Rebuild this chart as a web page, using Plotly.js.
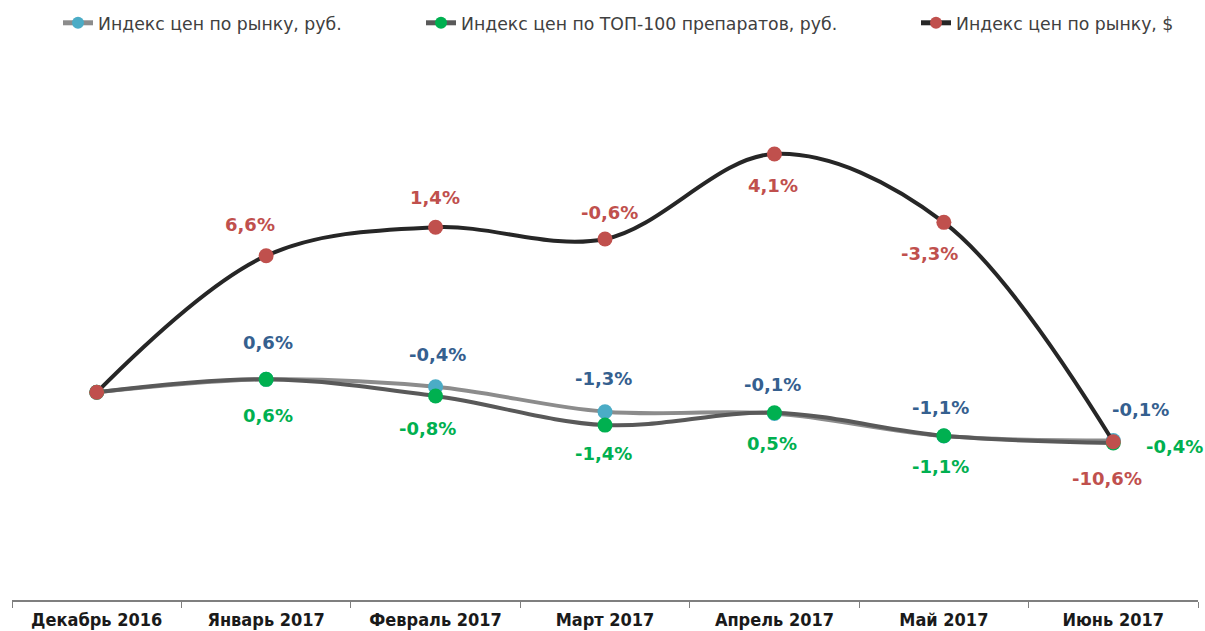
<!DOCTYPE html>
<html>
<head>
<meta charset="utf-8">
<script src="https://cdn.plot.ly/plotly-3.0.1.min.js"></script>
<style>html,body{margin:0;padding:0;background:#fff;}#chart{width:1205px;height:631px;}</style>
</head>
<body>
<div id="chart"></div>
<script>
// Categories
const months = ["Декабрь 2016", "Январь 2017", "Февраль 2017", "Март 2017", "Апрель 2017", "Май 2017", "Июнь 2017"];

// Series names
const nameRub = "Индекс цен по рынку, руб.";
const nameTop = "Индекс цен по ТОП-100 препаратов, руб.";
const nameUsd = "Индекс цен по рынку, $";

// Index values (Dec 2016 = 100)
const rubIndex = [100, 100.63, 100.27, 99.06, 98.97, 97.88, 97.66];
const topIndex = [100, 100.63, 99.82, 98.41, 99.01, 97.89, 97.54];
const usdIndex = [100, 106.63, 108.01, 107.44, 111.57, 108.25, 97.60];

// Monthly change labels
const rubLabels = ["", "0,6%", "-0,4%", "-1,3%", "-0,1%", "-1,1%", "-0,1%"];
const topLabels = ["", "0,6%", "-0,8%", "-1,4%", "0,5%", "-1,1%", "-0,4%"];
const usdLabels = ["", "6,6%", "1,4%", "-0,6%", "4,1%", "-3,3%", "-10,6%"];

// Label offsets (pixels) relative to each point
const rubOff = [[0,0],[2,37],[2,32],[-2,33],[-2,29],[-3,29],[27,31]];
const topOff = [[0,0],[2,-36],[-8,-32],[-2,-28],[-2,-31],[-3,-31],[61,-3]];
const usdOff = [[0,0],[-16,31],[-1,30],[4,27],[-1,-32],[-14,-31],[-6,-37]];

const labelFont = {family: "DejaVu Sans, Verdana, sans-serif", size: 18, weight: 700};

const traces = [
  {x: months, y: rubIndex, name: nameRub, type: "scatter", mode: "lines+markers",
   line: {color: "#8c8c8c", width: 4, shape: "spline", smoothing: 1},
   marker: {color: "#4bacc6", size: 15}, legend: "legend"},
  {x: months, y: topIndex, name: nameTop, type: "scatter", mode: "lines+markers",
   line: {color: "#595959", width: 4, shape: "spline", smoothing: 1},
   marker: {color: "#00b050", size: 15}, legend: "legend2"},
  {x: months, y: usdIndex, name: nameUsd, type: "scatter", mode: "lines+markers",
   line: {color: "#262626", width: 4, shape: "spline", smoothing: 1},
   marker: {color: "#c0504d", size: 15}, legend: "legend3"}
];

const annotations = [];
function addLabels(vals, labels, offs, color) {
  labels.forEach((t, i) => {
    if (!t) return;
    annotations.push({x: months[i], y: vals[i], xref: "x", yref: "y", text: t, showarrow: false,
      xshift: offs[i][0], yshift: offs[i][1], font: Object.assign({color: color}, labelFont)});
  });
}
addLabels(rubIndex, rubLabels, rubOff, "#35608f");
addLabels(topIndex, topLabels, topOff, "#00b050");
addLabels(usdIndex, usdLabels, usdOff, "#c0504d");

const legendBase = {orientation: "h", xref: "paper", yref: "container", y: 0.992, yanchor: "top",
  font: {family: "DejaVu Sans, Verdana, sans-serif", size: 17.3, color: "#404040"},
  bgcolor: "rgba(0,0,0,0)", itemwidth: 30, itemsizing: "constant", tracegroupgap: 0};

const layout = {
  width: 1205, height: 631,
  margin: {l: 12, r: 7, t: 60, b: 31},
  paper_bgcolor: "#ffffff", plot_bgcolor: "#ffffff",
  showlegend: true,
  legend: Object.assign({}, legendBase, {x: (58 - 12) / 1186}),
  legend2: Object.assign({}, legendBase, {x: (421 - 12) / 1186}),
  legend3: Object.assign({}, legendBase, {x: (916 - 12) / 1186}),
  xaxis: {type: "category", tickson: "boundaries", ticks: "outside", ticklen: 6,
    tickcolor: "#7f7f7f", showline: true, linecolor: "#7f7f7f", linewidth: 1.5,
    showgrid: false, zeroline: false, range: [-0.5, 6.5], fixedrange: true, ticklabelstandoff: 3,
    tickfont: {family: "DejaVu Sans Condensed, DejaVu Sans, sans-serif", size: 18, weight: 700, color: "#1a1a1a"}},
  yaxis: {range: [89.92, 116.13], visible: false, showgrid: false, zeroline: false, fixedrange: true},
  annotations: annotations
};

Plotly.newPlot("chart", traces, layout, {displayModeBar: false, staticPlot: true});
</script>
</body>
</html>
